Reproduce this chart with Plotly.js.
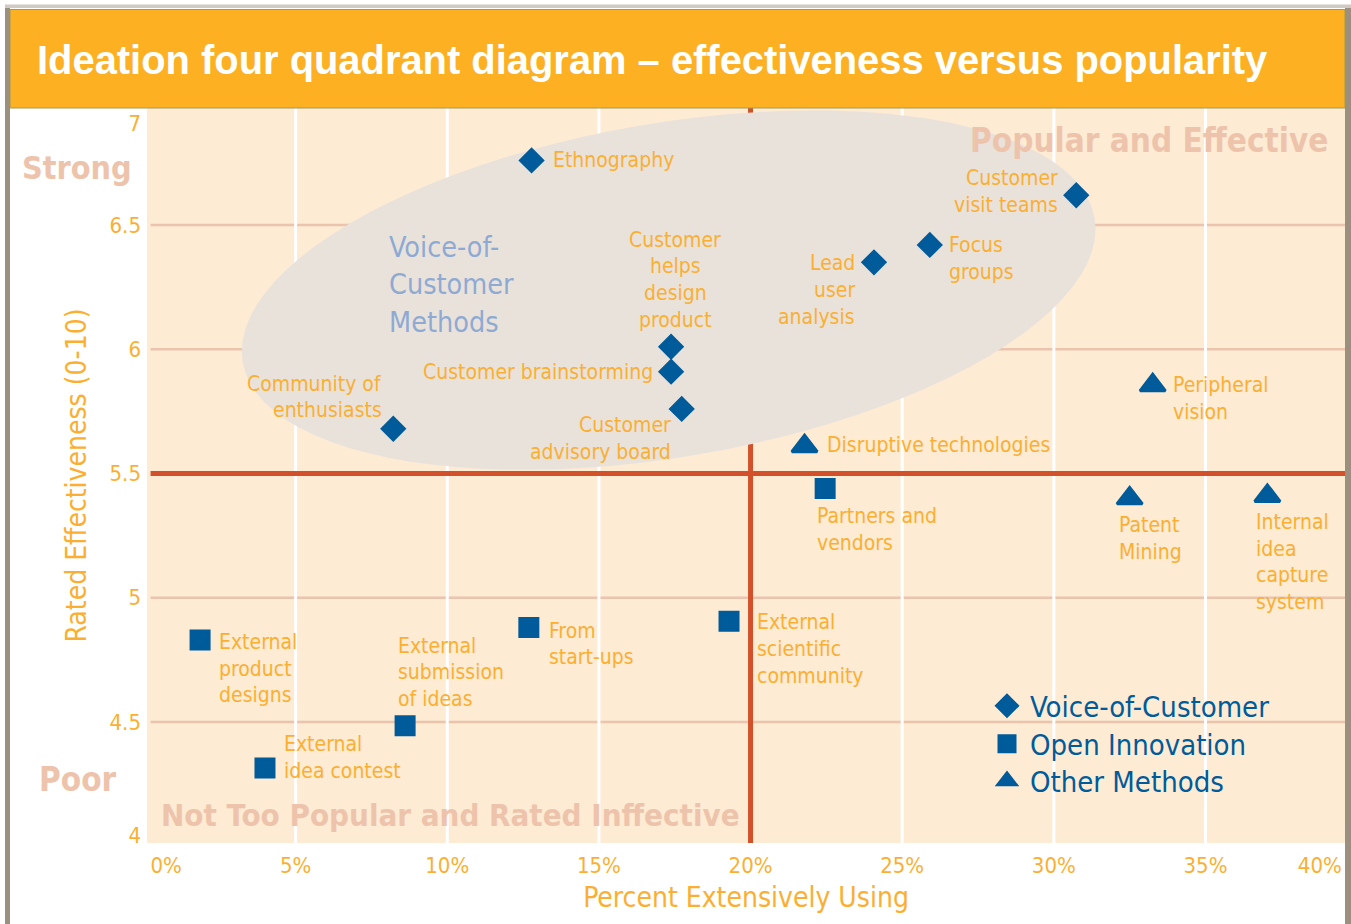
<!DOCTYPE html>
<html>
<head>
<meta charset="utf-8">
<script src="https://cdn.plot.ly/plotly-3.0.1.min.js"></script>
<style>
  html, body { margin: 0; padding: 0; background: #ffffff; }
  #chart { width: 1351px; height: 924px; }
</style>
</head>
<body>
<div id="chart"></div>
<script>
// ---------------- DATA ----------------
const seriesNames = ['Voice-of-Customer', 'Open Innovation', 'Other Methods'];

const vocNames = ['Ethnography', 'Customer visit teams', 'Focus groups', 'Lead user analysis',
  'Customer helps design product', 'Customer brainstorming', 'Customer advisory board', 'Community of enthusiasts'];
const vocPct   = [12.78, 30.74, 25.91, 24.07, 17.38, 17.38, 17.73, 8.22];
const vocScore = [6.76, 6.62, 6.42, 6.35, 6.01, 5.91, 5.76, 5.68];

const oiNames = ['Partners and vendors', 'External scientific community', 'From start-ups',
  'External product designs', 'External submission of ideas', 'External idea contest'];
const oiPct   = [22.46, 19.29, 12.69, 1.85, 8.61, 3.99];
const oiScore = [5.44, 4.905, 4.88, 4.83, 4.485, 4.315];

const otherNames = ['Peripheral vision', 'Disruptive technologies', 'Patent Mining', 'Internal idea capture system'];
const otherPct   = [33.26, 21.78, 32.50, 37.04];
const otherScore = [5.855, 5.61, 5.40, 5.41];

const xTickVals = [0, 5, 10, 15, 20, 25, 30, 35, 40];
const xTickText = ['0%', '5%', '10%', '15%', '20%', '25%', '30%', '35%', '40%'];
const yTickVals = [4, 4.5, 5, 5.5, 6, 6.5, 7];
const yTickText = ['4', '4.5', '5', '5.5', '6', '6.5', '7'];
const gridX = [5, 10, 15, 25, 30, 35];
const gridY = [4.5, 5, 6, 6.5];
const splitX = 20;     // popularity divider (%)
const splitY = 5.5;    // effectiveness divider

// ---------------- STYLE / GEOMETRY ----------------
const W = 1351, H = 924, L = 147, R = 1345, T = 108, B = 843;
const xRange = [0.1, 39.6], yRange = [4.013, 6.971];
const NARROW = '"DejaVu Sans Condensed", "Liberation Sans Narrow", Roboto, sans-serif';
const SANS = '"Liberation Sans", Arial, Helvetica, sans-serif';
const ORANGE = '#fbaf32', HEADER = '#fdb021', BLUE = '#005b9a', PINK = '#eec3ab',
      GRIDPINK = '#ecc4ad', RED = '#d2502a', PLOTBG = '#fdebd4', ELLIPSE = '#e9e2db',
      VOCBLUE = '#8eaad3', FRAME = '#9b9080';
const LH = 26.7;       // label line spacing in px
const LABEL_SIZE = 21;

const paperX = px => (px - L) / (R - L);
const paperY = py => (B - py) / (B - T);

const xTickPos = xTickVals.map(v => Math.min(Math.max(v, xRange[0] + 0.63), xRange[1] - 0.83));
const yTickPos = yTickVals.map(v => Math.min(Math.max(v, yRange[0] + 0.032), yRange[1] - 0.061));

// label placement (px offsets from the marker)
const labelLayout = {
  'Ethnography': {lines: ['Ethnography'], anchor: 'left', dx: 19, dy: 0},
  'Customer visit teams': {lines: ['Customer', 'visit teams'], anchor: 'right', dx: -16, dy: -17},
  'Focus groups': {lines: ['Focus', 'groups'], anchor: 'left', dx: 17, dy: 0},
  'Lead user analysis': {lines: ['Lead', 'user', 'analysis'], anchor: 'right', dx: -17, dy: 1},
  'Customer helps design product': {lines: ['Customer', 'helps', 'design', 'product'], anchor: 'center', dx: 4, dy: -107},
  'Customer brainstorming': {lines: ['Customer brainstorming'], anchor: 'right', dx: -16, dy: 0},
  'Customer advisory board': {lines: ['Customer', 'advisory board'], anchor: 'right', dx: -9, dy: 16},
  'Community of enthusiasts': {lines: ['Community of', 'enthusiasts'], anchor: 'right', dx: -9, dy: -45},
  'Partners and vendors': {lines: ['Partners and', 'vendors'], anchor: 'left', dx: -10, dy: 28},
  'External scientific community': {lines: ['External', 'scientific', 'community'], anchor: 'left', dx: 26, dy: 1},
  'From start-ups': {lines: ['From', 'start-ups'], anchor: 'left', dx: 18, dy: 3},
  'External product designs': {lines: ['External', 'product', 'designs'], anchor: 'left', dx: 17, dy: 2},
  'External submission of ideas': {lines: ['External', 'submission', 'of ideas'], anchor: 'left', dx: -9, dy: -80},
  'External idea contest': {lines: ['External', 'idea contest'], anchor: 'left', dx: 17, dy: -24},
  'Peripheral vision': {lines: ['Peripheral', 'vision'], anchor: 'left', dx: 18, dy: 0},
  'Disruptive technologies': {lines: ['Disruptive technologies'], anchor: 'left', dx: 20, dy: -1},
  'Patent Mining': {lines: ['Patent', 'Mining'], anchor: 'left', dx: -13, dy: 27},
  'Internal idea capture system': {lines: ['Internal', 'idea', 'capture', 'system'], anchor: 'left', dx: -13, dy: 26}
};

// ---------------- TRACES ----------------
function mk(symbol, size) {
  return {symbol: symbol, size: size, color: BLUE, line: {color: BLUE, width: 3}};
}
const traces = [
  {type: 'scatter', mode: 'markers', name: seriesNames[0], x: vocPct, y: vocScore, text: vocNames,
   hoverinfo: 'text+x+y', marker: mk('diamond', 17), legend: 'legend', cliponaxis: false},
  {type: 'scatter', mode: 'markers', name: seriesNames[1], x: oiPct, y: oiScore, text: oiNames,
   hoverinfo: 'text+x+y', marker: mk('square', 18), legend: 'legend2', cliponaxis: false},
  {type: 'scatter', mode: 'markers', name: seriesNames[2], x: otherPct, y: otherScore, text: otherNames,
   hoverinfo: 'text+x+y', marker: mk('triangle-up', 22), legend: 'legend3', cliponaxis: false}
];

// ---------------- ANNOTATIONS ----------------
const annotations = [];
function addLabels(names, xs, ys) {
  names.forEach((n, i) => {
    const cfg = labelLayout[n];
    cfg.lines.forEach((line, j) => {
      annotations.push({
        x: xs[i], y: ys[i], xref: 'x', yref: 'y', showarrow: false, text: line,
        xanchor: cfg.anchor, yanchor: 'middle', xshift: cfg.dx, yshift: -(cfg.dy + j * LH),
        font: {family: NARROW, size: LABEL_SIZE, color: ORANGE}
      });
    });
  });
}
addLabels(vocNames, vocPct, vocScore);
addLabels(oiNames, oiPct, oiScore);
addLabels(otherNames, otherPct, otherScore);

['Voice-of-', 'Customer', 'Methods'].forEach((t, j) => {
  annotations.push({x: paperX(387), y: paperY(247 + j * 37.5), xref: 'paper', yref: 'paper', showarrow: false,
    text: t, xanchor: 'left', yanchor: 'middle', font: {family: NARROW, size: 28.5, color: VOCBLUE}});
});

const bigFont = s => ({family: NARROW, size: s, color: PINK, weight: 'bold'});
annotations.push(
  {x: paperX(1330), y: paperY(140), xref: 'paper', yref: 'paper', showarrow: false, text: '<b>Popular and Effective</b>',
   xanchor: 'right', yanchor: 'middle', font: bigFont(33)},
  {x: paperX(159), y: paperY(815), xref: 'paper', yref: 'paper', showarrow: false, text: '<b>Not Too Popular and Rated Inffective</b>',
   xanchor: 'left', yanchor: 'middle', font: bigFont(31)},
  {x: paperX(77), y: paperY(168), xref: 'paper', yref: 'paper', showarrow: false, text: '<b>Strong</b>',
   xanchor: 'center', yanchor: 'middle', font: bigFont(32)},
  {x: paperX(78), y: paperY(779), xref: 'paper', yref: 'paper', showarrow: false, text: '<b>Poor</b>',
   xanchor: 'center', yanchor: 'middle', font: bigFont(33)}
);

// ---------------- SHAPES ----------------
function ellipsePath(cx, cy, a, b, deg) {
  const sx = (R - L) / (xRange[1] - xRange[0]);
  const sy = (B - T) / (yRange[1] - yRange[0]);
  const th = deg * Math.PI / 180;
  let d = '';
  for (let i = 0; i <= 96; i++) {
    const t = i / 96 * 2 * Math.PI;
    const ux = a * Math.cos(t) * Math.cos(th) - b * Math.sin(t) * Math.sin(th);
    const uy = a * Math.cos(t) * Math.sin(th) + b * Math.sin(t) * Math.cos(th);
    d += (i ? 'L' : 'M') + (cx + ux / sx).toFixed(4) + ',' + (cy + uy / sy).toFixed(4);
  }
  return d + 'Z';
}

const shapes = [];
// VoC cluster ellipse
shapes.push({type: 'path', xref: 'x', yref: 'y', path: ellipsePath(17.30, 6.238, 432, 167, 9.6),
  fillcolor: ELLIPSE, line: {width: 0}, layer: 'below'});
// horizontal pink grid
gridY.forEach(v => shapes.push({type: 'line', xref: 'paper', yref: 'y', x0: 0.003, x1: 1, y0: v, y1: v,
  line: {color: GRIDPINK, width: 2.6}, layer: 'below'}));
// vertical white grid
gridX.forEach(v => shapes.push({type: 'line', xref: 'x', yref: 'paper', x0: v, x1: v, y0: 0, y1: 1,
  line: {color: '#ffffff', width: 3}, layer: 'below'}));
// quadrant dividers
shapes.push({type: 'line', xref: 'x', yref: 'paper', x0: splitX, x1: splitX, y0: 0, y1: 1,
  line: {color: RED, width: 5}, layer: 'between'});
shapes.push({type: 'line', xref: 'paper', yref: 'y', x0: 0.003, x1: 1, y0: splitY, y1: splitY,
  line: {color: RED, width: 5}, layer: 'between'});
// header bar
shapes.push({type: 'rect', xref: 'paper', yref: 'paper', x0: paperX(10), x1: paperX(1345), y0: paperY(108), y1: paperY(9.5),
  fillcolor: HEADER, line: {color: '#a29a55', width: 1}, layer: 'above'});
// outer frame
shapes.push({type: 'rect', xref: 'paper', yref: 'paper', x0: paperX(5), x1: paperX(10), y0: paperY(924), y1: paperY(5),
  fillcolor: FRAME, line: {width: 0}, layer: 'above'});
shapes.push({type: 'rect', xref: 'paper', yref: 'paper', x0: paperX(1345), x1: paperX(1351), y0: paperY(924), y1: paperY(5),
  fillcolor: FRAME, line: {width: 0}, layer: 'above'});
shapes.push({type: 'rect', xref: 'paper', yref: 'paper', x0: paperX(5), x1: paperX(1351), y0: paperY(8), y1: paperY(4.5),
  fillcolor: '#cfcac2', line: {width: 0}, layer: 'above'});

// ---------------- LAYOUT ----------------
const legendBase = {
  xref: 'paper', yref: 'paper', x: paperX(984), xanchor: 'left', yanchor: 'middle',
  bgcolor: 'rgba(0,0,0,0)', borderwidth: 0, itemwidth: 36,
  font: {family: NARROW, size: 29, color: BLUE}
};
const layout = {
  width: W, height: H,
  margin: {l: L, r: W - R, t: T, b: H - B, pad: 0},
  paper_bgcolor: '#ffffff', plot_bgcolor: PLOTBG,
  title: {text: '<b>Ideation four quadrant diagram \u2013 effectiveness versus popularity</b>',
    xref: 'container', yref: 'container', x: 37 / W, xanchor: 'left', y: 1 - 60 / H, yanchor: 'middle',
    font: {family: SANS, size: 39.9, color: '#ffffff'}},
  xaxis: {range: xRange, tickmode: 'array', tickvals: xTickPos, ticktext: xTickText,
    showgrid: false, zeroline: false, showline: false, ticks: '', ticklabelstandoff: 7,
    tickfont: {family: NARROW, size: 22, color: ORANGE}, automargin: false, fixedrange: true,
    title: {text: 'Percent Extensively Using', font: {family: NARROW, size: 28, color: ORANGE}, standoff: 10}},
  yaxis: {range: yRange, tickmode: 'array', tickvals: yTickPos, ticktext: yTickText,
    showgrid: false, zeroline: false, showline: false, ticks: '', ticklabelstandoff: 5,
    tickfont: {family: NARROW, size: 22, color: ORANGE}, automargin: false, fixedrange: true,
    title: {text: 'Rated Effectiveness (0-10)', font: {family: NARROW, size: 28, color: ORANGE}, standoff: 14}},
  legend: Object.assign({}, legendBase, {y: paperY(706)}),
  legend2: Object.assign({}, legendBase, {y: paperY(744)}),
  legend3: Object.assign({}, legendBase, {y: paperY(781)}),
  showlegend: true,
  shapes: shapes,
  annotations: annotations,
  hovermode: 'closest'
};

Plotly.newPlot('chart', traces, layout, {displayModeBar: false, responsive: false});
</script>
</body>
</html>
